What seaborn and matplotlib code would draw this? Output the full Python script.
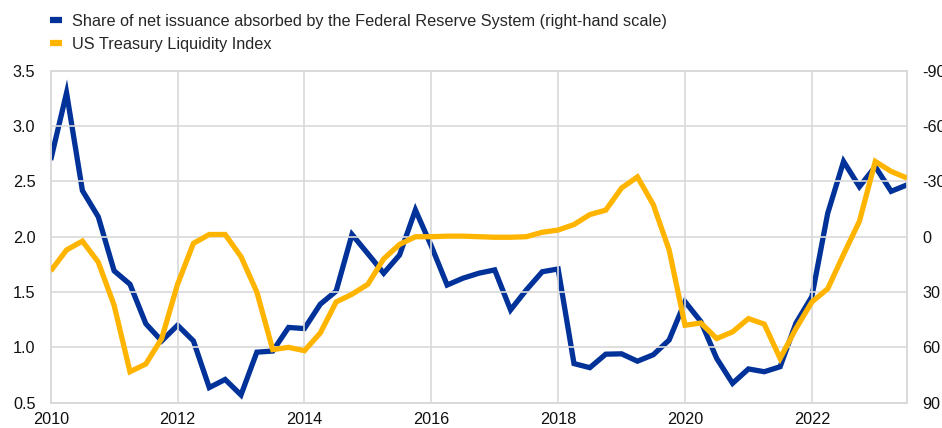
import numpy as np
import pandas as pd
import matplotlib
matplotlib.use("Agg")
import matplotlib.pyplot as plt
from matplotlib.lines import Line2D
import seaborn as sns

# Quarterly dates (decimal years), 2010Q1 .. 2023Q3
quarters = [2010 + 0.25 * i for i in range(55)]

# Share of net issuance absorbed by the Federal Reserve System (right-hand scale, inverted)
fed_share = [-41.6, -78.0, -25.0, -10.8, 18.5, 25.8, 47.2, 56.5,
             48.0, 56.5, 81.8, 77.4, 85.8, 62.6, 62.0, 49.2,
             49.8, 36.6, 29.5, -1.2, 9.2, 19.8, 9.9, -14.5,
             5.0, 26.2, 22.5, 19.8, 18.0, 39.7, 28.8, 19.0,
             17.5, 68.8, 71.0, 63.7, 63.5, 67.5, 64.0, 56.0,
             35.2, 46.0, 66.0, 79.5, 71.7, 73.2, 70.5, 46.8,
             32.5, -12.7, -40.8, -27.1, -38.0, -24.6, -28.1]

# US Treasury Liquidity Index (left-hand scale)
liquidity = [1.69, 1.88, 1.96, 1.77, 1.38, 0.78, 0.85, 1.08,
             1.57, 1.94, 2.02, 2.02, 1.82, 1.50, 0.98, 1.00,
             0.97, 1.13, 1.41, 1.48, 1.57, 1.80, 1.93, 2.00,
             2.00, 2.005, 2.005, 2.00, 1.995, 1.995, 2.00, 2.04,
             2.06, 2.11, 2.20, 2.24, 2.44, 2.54, 2.29, 1.88,
             1.20, 1.22, 1.08, 1.14, 1.26, 1.21, 0.90, 1.17,
             1.41, 1.53, 1.84, 2.14, 2.68, 2.59, 2.53]

labels = ["Share of net issuance absorbed by the Federal Reserve System (right-hand scale)",
          "US Treasury Liquidity Index"]
x_ticks = [2010, 2012, 2014, 2016, 2018, 2020, 2022]
left_ticks = [0.5, 1.0, 1.5, 2.0, 2.5, 3.0, 3.5]
right_ticks = [-90, -60, -30, 0, 30, 60, 90]

BLUE = "#003299"
YELLOW = "#FFB400"
GRID = "#d9d9d9"

sns.set_style("white")
plt.rcParams["font.family"] = ["Liberation Sans", "DejaVu Sans"]
FS = 11.7

df = pd.DataFrame({"date": quarters, "fed": fed_share, "liq": liquidity})

fig = plt.figure(figsize=(9.42, 4.28), dpi=100)
ax = fig.add_axes([50.7 / 942, 1 - 402.7 / 428, (907 - 50.7) / 942, (402.7 - 70.7) / 428])
ax2 = ax.twinx()

sns.lineplot(data=df, x="date", y="liq", ax=ax, color=YELLOW, linewidth=3.8,
             solid_joinstyle="miter", solid_capstyle="butt", zorder=3)
sns.lineplot(data=df, x="date", y="fed", ax=ax2, color=BLUE, linewidth=3.8,
             solid_joinstyle="miter", solid_capstyle="butt", zorder=3)

ax.set_zorder(ax2.get_zorder() + 1)
ax.patch.set_visible(False)

ax.set_xlim(2010, 2023.5)
ax.set_ylim(0.5, 3.5)
ax2.set_ylim(90, -90)
ax.set_xticks(x_ticks)
ax.set_xticklabels([str(t) for t in x_ticks], fontsize=FS)
ax.set_yticks(left_ticks)
ax.set_yticklabels([f"{t:.1f}" for t in left_ticks], fontsize=FS)
ax2.set_yticks(right_ticks)
ax2.set_yticklabels([str(t) for t in right_ticks], fontsize=FS)

ax.grid(True, color=GRID, linewidth=1.2)
ax2.grid(False)
for a in (ax, ax2):
    a.set_xlabel("")
    a.set_ylabel("")
    for s in a.spines.values():
        s.set_color(GRID)
        s.set_linewidth(1.2)
ax.tick_params(axis="both", length=0, colors="#111111", labelsize=FS)
ax.tick_params(axis="y", pad=11)
ax.tick_params(axis="x", pad=7)
ax2.tick_params(axis="y", length=0, colors="#111111", labelsize=FS, pad=11)

handles = [Line2D([0], [0], color=BLUE, lw=4.5, solid_capstyle="butt"),
           Line2D([0], [0], color=YELLOW, lw=4.5, solid_capstyle="butt")]
fig.legend(handles, labels, loc="upper left", bbox_to_anchor=(50 / 942, 1 - 14 / 428),
           frameon=False, fontsize=FS, handlelength=0.75, handletextpad=0.6,
           labelspacing=0.5, borderpad=0, borderaxespad=0)

fig.savefig("out.png", dpi=100)
